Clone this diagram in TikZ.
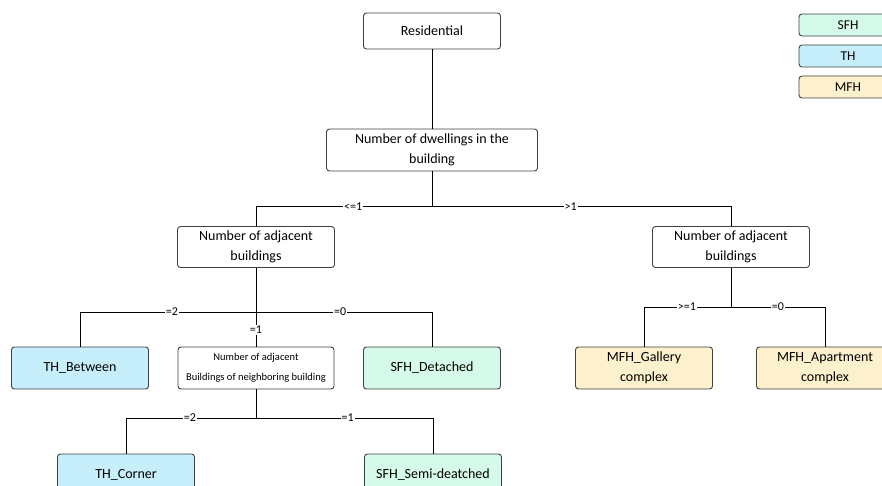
\documentclass[tikz,border=0pt]{standalone}
\usepackage{fontspec}
\setmainfont{Carlito}
\definecolor{sfhcol}{RGB}{214,250,234}
\definecolor{thcol}{RGB}{198,238,251}
\definecolor{mfhcol}{RGB}{253,240,204}
\definecolor{edgecol}{RGB}{64,64,64}
\tikzset{
  box/.style={draw=edgecol, line width=0.9pt, rounded corners=3pt, fill=white, align=center,
    minimum width=137pt, minimum height=42pt, inner sep=1pt, font=\fontsize{14}{20}\selectfont},
  sfh/.style={box, fill=sfhcol},
  th/.style={box, fill=thcol},
  mfh/.style={box, fill=mfhcol},
  key/.style={box, minimum width=98pt, minimum height=22pt, font=\fontsize{13.5}{14}\selectfont},
  lbl/.style={fill=white, inner sep=1pt, font=\fontsize{12}{14}\selectfont},
  link/.style={line width=1pt, black}
}
\begin{document}
\begin{tikzpicture}[x=1pt,y=-1pt]
      \useasboundingbox (0,0) rectangle (882,486);
      % tree nodes
      \node[box, minimum height=36pt] (res) at (432, 31){Residential};
      \node[box, minimum width=211pt] (dwell) at (432, 150){Number of dwellings in the\\building};
      \node[box, minimum width=157pt, minimum height=41pt] (adjL) at (256, 247){Number of adjacent\\buildings};
      \node[box, minimum width=157pt, minimum height=41pt] (adjR) at (731, 247){Number of adjacent\\buildings};

      \node[th] (thb) at (80, 368){TH\_Between};
      \node[box, minimum width=156pt, font=\fontsize{10.5}{20}\selectfont] (nbr) at (256, 368){Number of adjacent\\Buildings of neighboring building};
      \node[sfh] (sfhd) at (432, 368){SFH\_Detached};
      \node[mfh] (mfhg) at (644, 368){MFH\_Gallery\\complex};
      \node[mfh] (mfha) at (825, 368){MFH\_Apartment\\complex};

      \node[th] (thc) at (126, 475){TH\_Corner};
      \node[sfh] (sfhs) at (433, 475){SFH\_Semi-deatched};

      % legend
      \node[key, fill=sfhcol] (ksfh) at (848, 25){SFH};
      \node[key, fill=thcol] (kth) at (848, 56){TH};
      \node[key, fill=mfhcol] (kmfh) at (848, 87){MFH};

      % branch points
      \coordinate (b1) at (432, 207);
      \coordinate (b2) at (256, 312);
      \coordinate (b3) at (256, 418);
      \coordinate (b4) at (731, 307);

      \draw[link](res) to (dwell);
      \draw[link](dwell) to (b1);
        \draw[link](b1) -| node[lbl, pos=0.224]{<=1} (adjL.north);
        \draw[link](b1) -| node[lbl, pos=0.232]{>1} (adjR.north);

      \draw[link](adjL) to node[lbl, pos=0.785]{=1} (nbr);
        \draw[link](b2) -| node[lbl, pos=0.239]{=2} (thb.north);
        \draw[link](b2) -| node[lbl, pos=0.239]{=0} (sfhd.north);

      \draw[link](nbr) to (b3);
        \draw[link](b3) -| node[lbl, pos=0.254]{=2} (thc.north);
        \draw[link](b3) -| node[lbl, pos=0.259]{=1} (sfhs.north);

      \draw[link](adjR) to (b4);
        \draw[link](b4) -| node[lbl, pos=0.253]{>=1} (mfhg.north);
        \draw[link](b4) -| node[lbl, pos=0.25]{=0} (mfha.north);
    \end{tikzpicture}
\end{document}
